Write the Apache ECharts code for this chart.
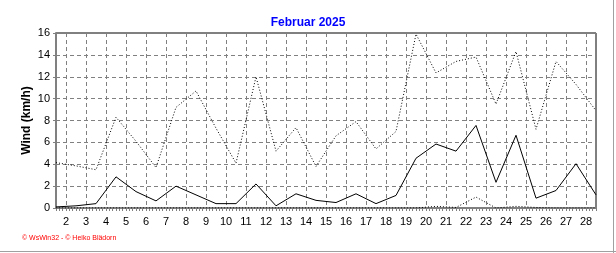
<!DOCTYPE html>
<html>
<head>
<meta charset="utf-8">
<script src="https://cdn.jsdelivr.net/npm/echarts@6/dist/echarts.min.js"></script>
<style>
html,body{margin:0;padding:0;background:#fff;}
#chart{width:616px;height:253px;}
</style>
</head>
<body>
<div id="chart"></div>
<script>
// Days of February 2025 (data points at noon of each day)
const days = [1,2,3,4,5,6,7,8,9,10,11,12,13,14,15,16,17,18,19,20,21,22,23,24,25,26,27,28];
// Mean wind (solid line), km/h
const meanWind = [0.1,0.2,0.4,2.85,1.5,0.65,2.0,1.2,0.4,0.4,2.2,0.2,1.3,0.7,0.5,1.3,0.4,1.15,4.55,5.85,5.2,7.55,2.35,6.65,0.9,1.6,4.05,1.2];
// Max gust (dotted line), km/h
const maxGust = [4.15,3.85,3.5,8.3,6.1,3.7,9.2,10.7,7.3,4.1,12.0,5.2,7.35,3.8,6.6,7.9,5.4,7.0,15.9,12.35,13.4,13.8,9.5,14.3,7.2,13.4,11.3,8.9];
// Third (low dotted) series, km/h
const lowSeries = [0,0,0,0,0,0,0,0,0,0,0,0,0,0,0,0,0,0,0,0.15,0.05,1.0,0,0.15,0.05,0,0,0];
// X tick labels (day boundaries)
const tickLabels = ['2','3','4','5','6','7','8','9','10','11','12','13','14','15','16','17','18','19','20','21','22','23','24','25','26','27','28'];
// Y tick values
const yTicks = [0,2,4,6,8,10,12,14,16];

// Display axis: 4-hour steps from day 1 noon to day 28 noon
const steps = [];
const stepsPerDay = 6;
const totalSteps = (days.length - 1) * stepsPerDay + 1;
for (let i = 0; i < totalSteps; i++) {
  const k = (i - 3) / stepsPerDay;
  steps.push(((i - 3) % stepsPerDay === 0 && k >= 0 && k < tickLabels.length) ? tickLabels[k] : '');
}

const FONT = 'Liberation Sans, Arial, sans-serif';
const chart = echarts.init(document.getElementById('chart'), null, {renderer: 'canvas'});
chart.setOption({
  backgroundColor: '#ffffff',
  animation: false,
  title: {
    text: 'Februar 2025',
    left: 'center',
    top: 12,
    textStyle: {color: '#0000ff', fontWeight: 'bold', fontSize: 12, fontFamily: FONT}
  },
  grid: {
    left: 56, right: 20, top: 33, bottom: 45,
    show: true, borderColor: '#000000', borderWidth: 1, backgroundColor: '#ffffff'
  },
  xAxis: [
    {
      type: 'value', min: days[0], max: days[days.length - 1], show: false
    },
    {
      type: 'category', data: steps, boundaryGap: false, position: 'bottom',
      axisLine: {show: true, lineStyle: {color: '#808080', width: 2}},
      axisTick: {show: true, interval: 0, length: 3, lineStyle: {color: '#808080'}},
      axisLabel: {interval: 0, margin: 8, color: '#000', fontSize: 11, fontFamily: FONT},
      splitLine: {show: true, interval: function (idx) { return (idx - 3) % stepsPerDay === 0 && idx >= 3 && idx < totalSteps - 1; },
        lineStyle: {color: '#808080', type: [4, 3], width: 1}}
    }
  ],
  yAxis: {
    type: 'value', min: yTicks[0], max: yTicks[yTicks.length - 1], interval: 2,
    name: 'Wind (km/h)', nameLocation: 'middle', nameGap: 23, nameMoveOverlap: false,
    nameTextStyle: {color: '#000', fontWeight: 'bold', fontSize: 12, fontFamily: FONT},
    axisLine: {show: true, lineStyle: {color: '#808080', width: 2}},
    axisTick: {show: true, length: 3, lineStyle: {color: '#808080'}},
    axisLabel: {margin: 6, color: '#000', fontSize: 11, fontFamily: FONT},
    splitLine: {show: true, lineStyle: {color: '#808080', type: [4, 3], width: 1}}
  },
  series: [
    {
      name: 'low', type: 'line', xAxisIndex: 0, symbol: 'none',
      data: days.map((d, i) => [d, lowSeries[i]]),
      lineStyle: {color: '#000', width: 1, type: [1, 2]}
    },
    {
      name: 'max', type: 'line', xAxisIndex: 0, symbol: 'none',
      data: days.map((d, i) => [d, maxGust[i]]),
      lineStyle: {color: '#000', width: 1, type: [1, 2]}
    },
    {
      name: 'mean', type: 'line', xAxisIndex: 0, symbol: 'none',
      data: days.map((d, i) => [d, meanWind[i]]),
      lineStyle: {color: '#000', width: 1}
    }
  ],
  graphic: [
    {type: 'text', left: 22, top: 235, style: {text: '© WsWin32 - © Heiko Blädorn', fill: '#ff0000', font: '7px ' + FONT}},
    {type: 'line', shape: {x1: 613.5, y1: 0, x2: 613.5, y2: 253}, style: {stroke: '#a0a0a0', lineWidth: 1}},
    {type: 'line', shape: {x1: 0, y1: 251.5, x2: 616, y2: 251.5}, style: {stroke: '#a0a0a0', lineWidth: 1}}
  ]
});
</script>
</body>
</html>
